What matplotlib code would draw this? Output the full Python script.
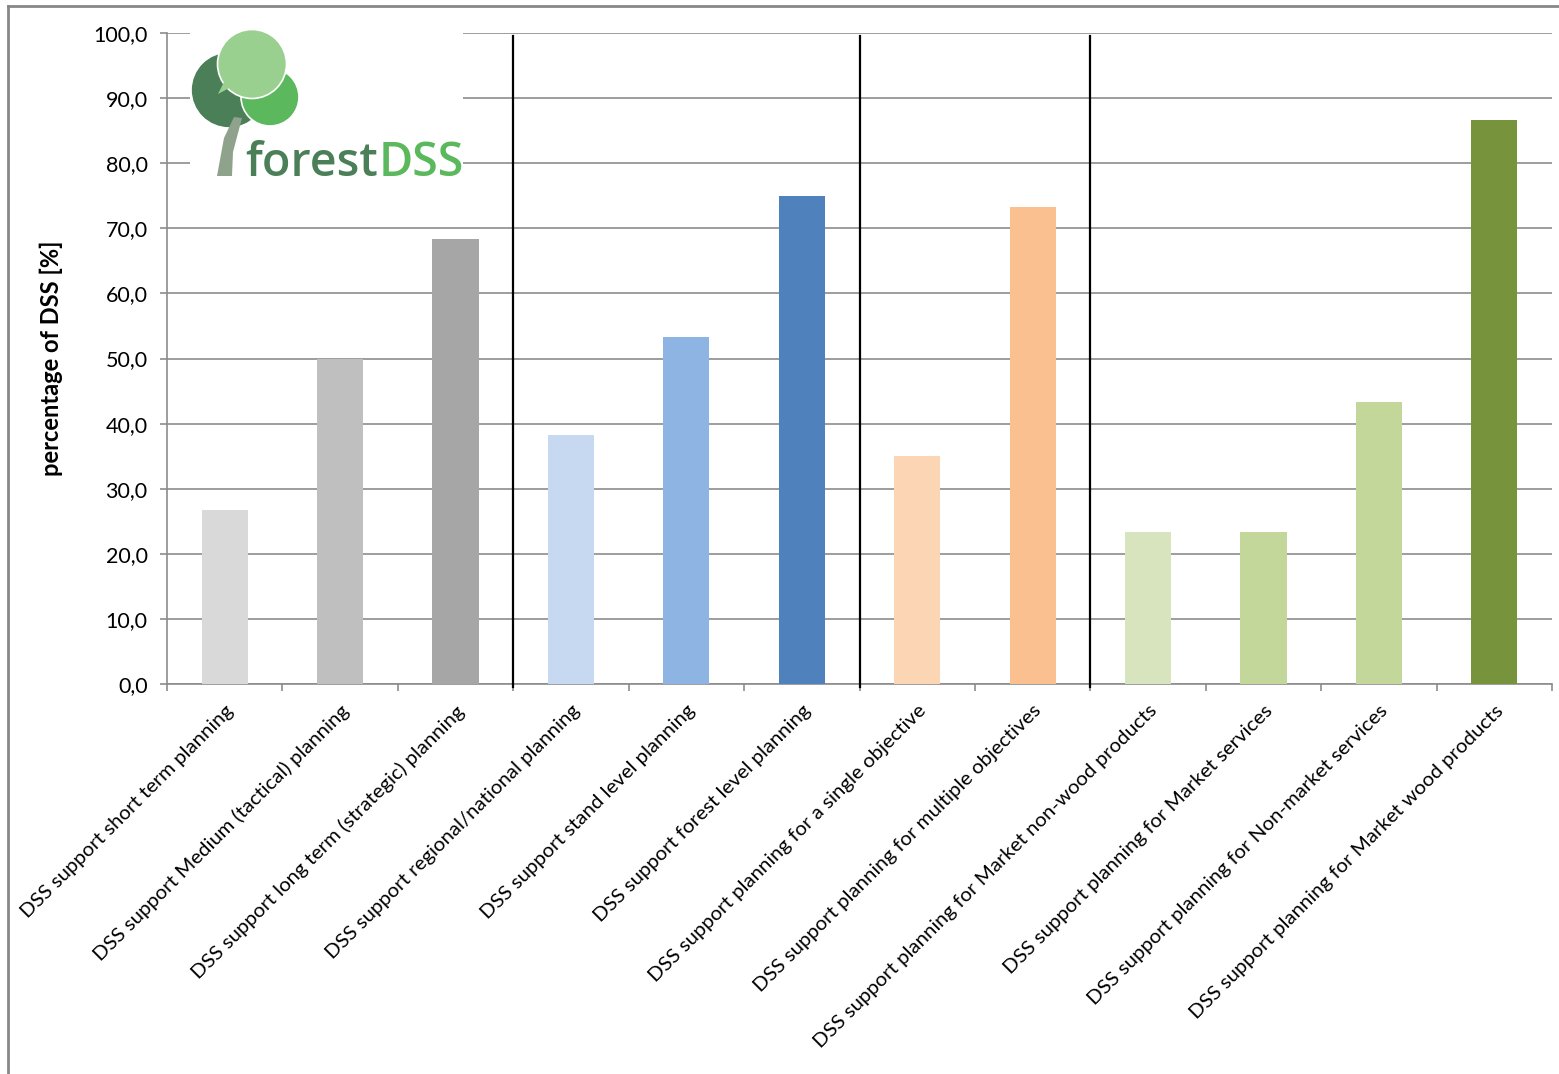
import numpy as np
import matplotlib
matplotlib.use('Agg')
import matplotlib.pyplot as plt
from matplotlib.patches import Circle, Rectangle, Polygon
from matplotlib.lines import Line2D

plt.rcParams['font.family'] = ['Lato', 'DejaVu Sans']

# Data
categories = [
    'DSS support short term planning',
    'DSS support Medium (tactical) planning',
    'DSS support long term (strategic) planning',
    'DSS support regional/national planning',
    'DSS support stand level planning',
    'DSS support forest level planning',
    'DSS support planning for a single objective',
    'DSS support planning for multiple objectives',
    'DSS support planning for Market non-wood products',
    'DSS support planning for Market services',
    'DSS support planning for Non-market services',
    'DSS support planning for Market wood products',
]
values = [26.7, 50.0, 68.3, 38.3, 53.3, 75.0, 35.0, 73.3, 23.3, 23.3, 43.3, 86.7]
bar_colors = ['#d9d9d9', '#bfbfbf', '#a6a6a6',
              '#c6d9f1', '#8eb4e3', '#4f81bd',
              '#fcd5b5', '#fac090',
              '#d7e4bd', '#c4d79b', '#c4d79b', '#77933c']
group_breaks = [2.5, 5.5, 7.5]
yticks = [0, 10, 20, 30, 40, 50, 60, 70, 80, 90, 100]

W, H = 1559, 1074
fig = plt.figure(figsize=(W / 100, H / 100), dpi=100)
ax = fig.add_axes([167 / W, 1 - 684 / H, (1552 - 167) / W, (684 - 33) / H])

x = np.arange(len(values))
ax.bar(x, values, width=0.4, color=bar_colors, zorder=3)

ax.set_xlim(-0.5, len(values) - 0.5)
ax.set_ylim(0, 100)
ax.set_yticks(yticks)
ax.set_yticklabels([f'{v:.1f}'.replace('.', ',') for v in yticks], fontsize=15.5)
ax.yaxis.grid(True, color='#8c8c8c', linewidth=1.2, zorder=0)
ax.set_axisbelow(True)

# category ticks between bars, labels under each bar
ax.set_xticks(np.arange(len(values) + 1) - 0.5)
ax.set_xticklabels([])
ax.set_xticks(x, minor=True)
ax.set_xticklabels(categories, minor=True, rotation=45, ha='right', va='top',
                   rotation_mode='anchor', fontsize=14.7)
ax.tick_params(axis='x', which='minor', length=0, pad=13)
ax.tick_params(axis='x', which='major', length=5, color='#8c8c8c', width=1.2)
ax.tick_params(axis='y', length=5, color='#8c8c8c', width=1.2, pad=9)

for s in ['top', 'right']:
    ax.spines[s].set_visible(False)
for s in ['left', 'bottom']:
    ax.spines[s].set_color('#8c8c8c')
    ax.spines[s].set_linewidth(1.2)

ax.set_ylabel('percentage of DSS [%]', fontsize=17, fontweight='bold')
ax.yaxis.set_label_coords(-0.075, 0.5)

# vertical group separators
for xb in group_breaks:
    ax.axvline(xb, ymin=-0.005, ymax=0.995, color='black', linewidth=1.6, clip_on=False, zorder=4)

# overlay in pixel coordinates for logo and frame
ov = fig.add_axes([0, 0, 1, 1], zorder=5)
ov.set_xlim(0, W)
ov.set_ylim(H, 0)
ov.axis('off')
ov.patch.set_alpha(0)

ov.add_line(Line2D([8, 8], [6, H], color='#878787', linewidth=2))
ov.add_line(Line2D([8, W], [6, 6], color='#878787', linewidth=2))

ov.add_patch(Rectangle((190, 18), 273, 163, facecolor='white', edgecolor='none'))
ov.add_patch(Circle((229, 90), 38, facecolor='#4a7f58', edgecolor='white', linewidth=1.2))
ov.add_patch(Circle((270, 97), 29, facecolor='#5cb85c', edgecolor='white', linewidth=1.2))
ov.add_patch(Circle((252, 64), 34.5, facecolor='#9ad08f', edgecolor='white', linewidth=1.2))
ov.add_patch(Polygon([(218, 94), (224, 82), (233, 86)], facecolor='#9ad08f', edgecolor='none'))
ov.add_patch(Polygon([(217, 176), (232, 176), (233, 152), (242, 118), (234, 117), (224, 138)],
                     facecolor='#8fa28c', edgecolor='none'))
logo_font = ['Open Sans', 'DejaVu Sans']
t1 = ov.text(245, 176, 'forest', color='#4a7f58', fontsize=34, fontweight='semibold',
             family=logo_font, ha='left', va='baseline')
t2 = ov.text(397, 176, 'DSS', color='#5cb85c', fontsize=34, fontweight='semibold',
             family=logo_font, ha='left', va='baseline')
# fit the logo word pair into its width in the picture
fig.canvas.draw()
r = fig.canvas.get_renderer()
w = t1.get_window_extent(r).width + t2.get_window_extent(r).width
size = 34 * 218 / w
t1.set_fontsize(size)
t2.set_fontsize(size)
fig.canvas.draw()
x_end = ov.transData.inverted().transform((t1.get_window_extent(r).x1, 0))[0]
t2.set_x(x_end + 1)

fig.savefig('out.png', dpi=100)
